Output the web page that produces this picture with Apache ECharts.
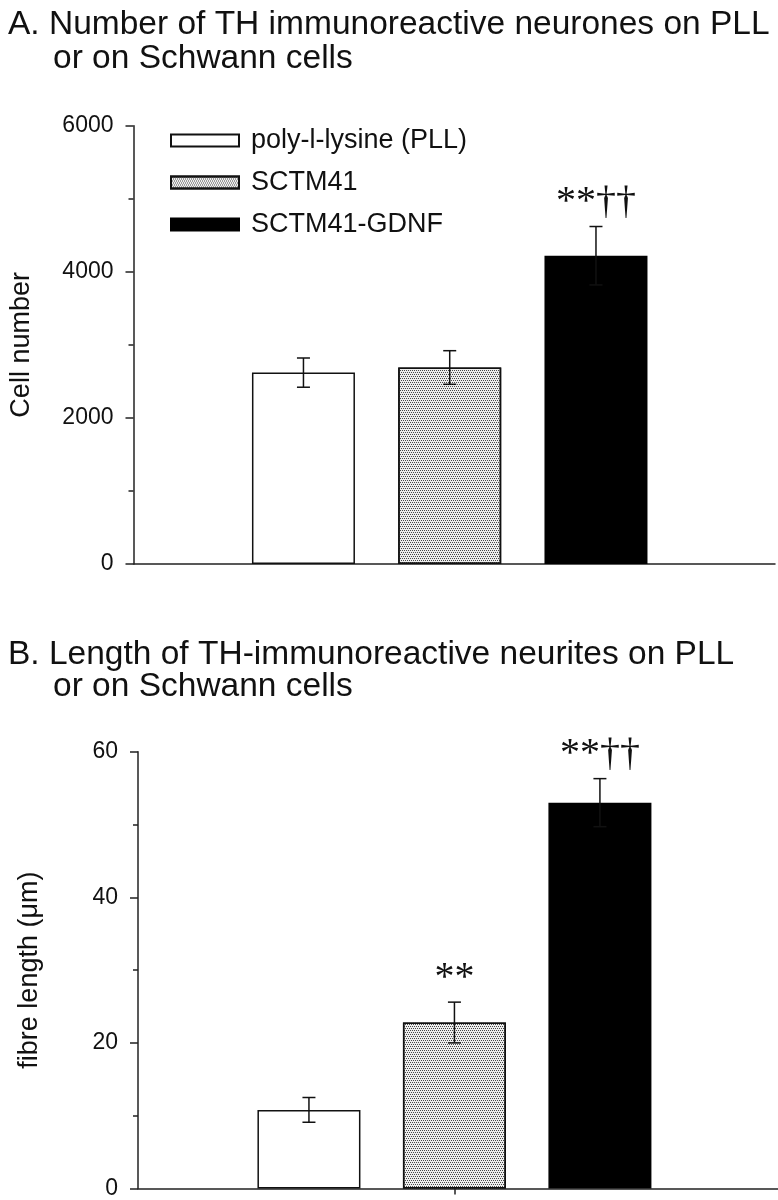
<!DOCTYPE html>
<html>
<head>
<meta charset="utf-8">
<script src="https://cdn.jsdelivr.net/npm/echarts@6/dist/echarts.min.js"></script>
<style>
  html, body { margin: 0; padding: 0; background: #fff; }
  #chart { width: 778px; height: 1200px; }
</style>
</head>
<body>
<div id="chart"></div>
<script>
// ---- data ----
const categories = ['poly-l-lysine (PLL)', 'SCTM41', 'SCTM41-GDNF'];
const positions = [1, 2, 3];
const cellNumber = [2620, 2690, 4220];
const cellNumberErr = [200, 230, 400];
const cellNumberMarks = ['', '', '**\u2020\u2020'];
const fibreLength = [10.8, 22.8, 53.0];
const fibreLengthErr = [1.7, 2.8, 3.3];
const fibreLengthMarks = ['', '**', '**\u2020\u2020'];
const yTicksA = [0, 2000, 4000, 6000];
const yTicksB = [0, 20, 40, 60];
const titleA = ['A. Number of TH immunoreactive neurones on PLL', 'or on Schwann cells'];
const titleB = ['B. Length of TH-immunoreactive neurites on PLL', 'or on Schwann cells'];
const yNameA = 'Cell number';
const yNameB = 'fibre length (\u03bcm)';

// ---- styles ----
const SANS = '"Liberation Sans", Arial, Helvetica, sans-serif';
const SERIF = '"Liberation Serif", "Times New Roman", serif';
const barStyles = [
  { color: '#ffffff', borderColor: '#111', borderWidth: 1.5 },
  { color: '#eeeeee', borderColor: '#111', borderWidth: 1.5,
    decal: { symbol: 'rect', symbolSize: 1, dashArrayX: [[1, 1], [0, 1, 1, 0]], dashArrayY: [1, 1], color: 'rgba(30,30,30,0.8)', rotation: 0 } },
  { color: '#000000', borderColor: '#000', borderWidth: 1.5 }
];

const chart = echarts.init(document.getElementById('chart'), null, { renderer: 'canvas' });

function yAxisFor(gridIndex, ticks, name, nameGap) {
  return {
    type: 'value', gridIndex: gridIndex,
    min: ticks[0], max: ticks[ticks.length - 1], interval: ticks[1] - ticks[0],
    name: name, nameLocation: 'middle', nameGap: nameGap,
    nameTextStyle: { fontFamily: SANS, fontSize: 27, color: '#111' },
    axisLine: { show: true, onZero: false, lineStyle: { color: '#222', width: 1.5 } },
    axisTick: { show: true, length: 8, lineStyle: { color: '#222', width: 1.5 } },
    minorTick: { show: true, splitNumber: 2, length: 5, lineStyle: { color: '#222', width: 1.5 } },
    splitLine: { show: false },
    axisLabel: { fontFamily: SANS, fontSize: 23, color: '#111', margin: 20,
                 formatter: function (v) { return String(v); } }
  };
}
function xAxisFor(gridIndex, min, max, tickVals) {
  return {
    type: 'value', gridIndex: gridIndex, min: min, max: max,
    axisLine: { show: true, onZero: false, lineStyle: { color: '#222', width: 1.5 } },
    axisTick: tickVals ? { show: true, customValues: tickVals, length: 6, lineStyle: { color: '#222', width: 1.5 } } : { show: false },
    axisLabel: { show: false },
    splitLine: { show: false }
  };
}

function barSeries(axisIdx, values) {
  return categories.map((name, i) => ({
    type: 'bar', name: name,
    xAxisIndex: axisIdx, yAxisIndex: axisIdx,
    data: [[positions[i], values[i]]],
    barWidth: 103, barGap: '-100%',
    itemStyle: barStyles[i],
    emphasis: { disabled: true },
    z: 2
  }));
}

function errSeries(axisIdx, values, errs, marks) {
  return {
    type: 'custom',
    xAxisIndex: axisIdx, yAxisIndex: axisIdx,
    data: positions.map((p, i) => [p, values[i], errs[i]]),
    z: 5,
    silent: true,
    renderItem: function (params, api) {
      const x = api.value(0), v = api.value(1), e = api.value(2);
      const top = api.coord([x, v + e]);
      const bot = api.coord([x, v - e]);
      const hw = 6.5;
      const ls = { stroke: '#111', lineWidth: 1.5 };
      const children = [
        { type: 'line', shape: { x1: top[0], y1: top[1], x2: bot[0], y2: bot[1] }, style: ls },
        { type: 'line', shape: { x1: top[0] - hw, y1: top[1], x2: top[0] + hw, y2: top[1] }, style: ls },
        { type: 'line', shape: { x1: bot[0] - hw, y1: bot[1], x2: bot[0] + hw, y2: bot[1] }, style: ls }
      ];
      const m = marks[params.dataIndex];
      if (m) {
        children.push({
          type: 'text', x: top[0], y: top[1] - 4,
          style: { text: m, font: '40px ' + SERIF, fill: '#111',
                   align: 'center', verticalAlign: 'bottom',
                   textAlign: 'center', textVerticalAlign: 'bottom' }
        });
      }
      return { type: 'group', children: children };
    }
  };
}

const titleStyle = { fontFamily: SANS, fontSize: 33.5, fontWeight: 'normal', color: '#111' };

const option = {
  backgroundColor: '#ffffff',
  animation: false,
  title: [
    { text: titleA[0], left: 3, top: 3, textStyle: titleStyle },
    { text: titleA[1], left: 48, top: 37, textStyle: titleStyle },
    { text: titleB[0], left: 3, top: 633, textStyle: titleStyle },
    { text: titleB[1], left: 48, top: 665, textStyle: titleStyle }
  ],
  legend: {
    data: categories.map(n => ({ name: n, icon: 'rect' })),
    orient: 'vertical', left: 165, top: 122,
    itemWidth: 68, itemHeight: 12, itemGap: 15,
    selectedMode: false,
    textStyle: { fontFamily: SANS, fontSize: 27, color: '#111', padding: [0, 0, 0, 7] }
  },
  grid: [
    { left: 133.5, top: 125.7, width: 641.5, height: 438.3, containLabel: false },
    { left: 138, top: 751.7, width: 640, height: 438.3, containLabel: false }
  ],
  xAxis: [
    xAxisFor(0, -0.162, 4.224, null),
    xAxisFor(1, -0.175, 4.224, [2])
  ],
  yAxis: [
    yAxisFor(0, yTicksA, yNameA, 98),
    yAxisFor(1, yTicksB, yNameB, 95)
  ],
  series: [].concat(
    barSeries(0, cellNumber),
    [errSeries(0, cellNumber, cellNumberErr, cellNumberMarks)],
    barSeries(1, fibreLength),
    [errSeries(1, fibreLength, fibreLengthErr, fibreLengthMarks)]
  )
};
chart.setOption(option);
</script>
</body>
</html>
